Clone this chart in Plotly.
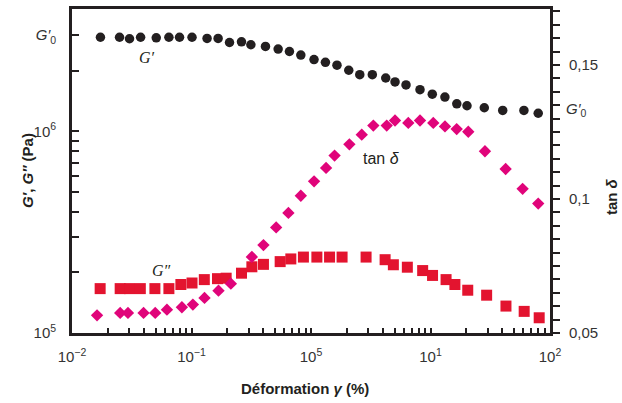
import plotly.graph_objects as go

# ---- data ----
strain_gp = [0.0173, 0.025, 0.0303, 0.0375, 0.0507, 0.0647, 0.0794, 0.101, 0.135, 0.167,
             0.208, 0.262, 0.314, 0.416, 0.531, 0.66, 0.822, 1.06, 1.32, 1.65,
             2.07, 2.56, 3.26, 4.22, 5.05, 6.24, 8.17, 10.35, 13.2, 16.6,
             20.2, 28.2, 40.2, 60.5, 79.7]
g_prime = [2.93e6, 2.93e6, 2.88e6, 2.93e6, 2.91e6, 2.93e6, 2.93e6, 2.93e6, 2.89e6, 2.89e6,
           2.76e6, 2.78e6, 2.69e6, 2.64e6, 2.56e6, 2.49e6, 2.39e6, 2.27e6, 2.20e6, 2.13e6,
           2.01e6, 1.91e6, 1.91e6, 1.84e6, 1.76e6, 1.70e6, 1.61e6, 1.53e6, 1.48e6, 1.37e6,
           1.34e6, 1.31e6, 1.27e6, 1.27e6, 1.23e6]

strain_gpp = [0.0172, 0.0253, 0.0303, 0.0373, 0.0494, 0.0647, 0.0815, 0.101, 0.128, 0.165,
              0.195, 0.262, 0.320, 0.400, 0.552, 0.678, 0.864, 1.12, 1.43, 1.82,
              2.89, 4.17, 4.89, 6.40, 8.60, 10.4, 13.5, 16.0, 20.5, 29.5,
              42.8, 60.8, 81.2]
g_second = [1.66e5, 1.66e5, 1.66e5, 1.66e5, 1.66e5, 1.66e5, 1.74e5, 1.77e5, 1.84e5, 1.86e5,
            1.87e5, 1.98e5, 2.13e5, 2.19e5, 2.26e5, 2.33e5, 2.38e5, 2.38e5, 2.38e5, 2.38e5,
            2.38e5, 2.31e5, 2.18e5, 2.12e5, 2.04e5, 1.93e5, 1.84e5, 1.74e5, 1.63e5, 1.54e5,
            1.36e5, 1.28e5, 1.19e5]

strain_tan = [0.0162, 0.0253, 0.0294, 0.0397, 0.0497, 0.0623, 0.0831, 0.1027, 0.1285, 0.1682,
              0.2135, 0.3199, 0.400, 0.511, 0.647, 0.822, 1.061, 1.337, 1.575, 2.095,
              2.659, 3.324, 4.302, 5.048, 6.52, 8.17, 10.55, 13.22, 16.56, 20.71,
              28.56, 42.55, 59.0, 79.7]
tan_delta = [0.0566, 0.0575, 0.0575, 0.0575, 0.0575, 0.0587, 0.0596, 0.0606, 0.0631, 0.0658,
             0.0684, 0.0784, 0.0828, 0.0894, 0.0948, 0.1012, 0.1066, 0.1116, 0.1162, 0.1204,
             0.1240, 0.1274, 0.1274, 0.1293, 0.1284, 0.1293, 0.1284, 0.1271, 0.1261, 0.1251,
             0.1178, 0.1112, 0.1038, 0.0983]

x_tick_vals = [0.01, 0.1, 1, 10, 100]
x_tick_text = ["10<sup>−2</sup>", "10<sup>−1</sup>", "10<sup>5</sup>", "10<sup>1</sup>", "10<sup>2</sup>"]
y_label_vals = [1e5, 1e6, 3e6]
y_label_text = ["10<sup>5</sup>", "10<sup>6</sup>", "<i>G′</i><sub>0</sub>"]
y2_label_vals = [0.05, 0.10, 0.15]
y2_label_text = ["0,05", "0,1", "0,15"]

# ---- styles ----
INK = "#231f20"
RED = "#e3142f"
MAGENTA = "#e0047a"
FONT = "Liberation Sans, Arial, sans-serif"

# tick arrays (majors labelled, minors blank)
xtv, xtt = [], []
for d in [0.01, 0.1, 1, 10]:
    for m in range(1, 10):
        v = round(d * m, 6)
        xtv.append(v)
        xtt.append(x_tick_text[x_tick_vals.index(d)] if m == 1 else "")
xtv.append(100)
xtt.append(x_tick_text[-1])

ytv, ytt = [], []
for d in [1e5, 1e6]:
    for m in range(1, 10):
        v = d * m
        if v > 3.5e6:
            continue
        ytv.append(v)
        ytt.append(y_label_text[y_label_vals.index(v)] if v in y_label_vals else "")

y2tv, y2tt = [], []
for i in range(0, 25):
    v = round(0.05 + 0.005 * i, 4)
    y2tv.append(v)
    lab = ""
    for lv, lt in zip(y2_label_vals, y2_label_text):
        if abs(lv - v) < 1e-9:
            lab = lt
    y2tt.append(lab)

fig = go.Figure()
fig.add_trace(go.Scatter(x=strain_gp, y=g_prime, mode="markers", name="G'",
                         marker=dict(symbol="circle", size=9.5, color=INK)))
fig.add_trace(go.Scatter(x=strain_gpp, y=g_second, mode="markers", name="G''",
                         marker=dict(symbol="square", size=11, color=RED)))
fig.add_trace(go.Scatter(x=strain_tan, y=tan_delta, mode="markers", name="tan d",
                         yaxis="y2", marker=dict(symbol="diamond", size=9.5, color=MAGENTA)))

axis_common = dict(showline=True, linecolor=INK, linewidth=2.8, showgrid=False, zeroline=False,
                   automargin=False,
                   tickcolor=INK, tickwidth=2, tickfont=dict(family=FONT, size=15, color="#333333"))

fig.update_layout(
    width=622, height=403,
    margin=dict(l=72, r=72, t=9, b=70),
    paper_bgcolor="white", plot_bgcolor="white",
    showlegend=False,
    xaxis=dict(type="log", range=[-2, 2], tickmode="array", tickvals=xtv, ticktext=xtt,
               ticks="inside", ticklen=5, mirror=True, ticklabelstandoff=8, **axis_common),
    yaxis=dict(type="log", range=[5, 6.607], tickmode="array", tickvals=ytv, ticktext=ytt,
               ticks="inside", ticklen=7, ticklabelstandoff=10, **axis_common),
    yaxis2=dict(overlaying="y", side="right", range=[0.05, 0.1709], tickmode="array",
                tickvals=y2tv, ticktext=y2tt, ticks="outside", ticklen=7,
                ticklabelstandoff=6, **axis_common),
)

ann = [
    dict(x=-0.094, y=0.50, text="<b><i>G′</i>, <i>G″</i> (Pa)</b>", textangle=-90),
    dict(x=1.13, y=0.42, text="<b>tan <i>δ</i></b>", textangle=-90),
    dict(x=0.487, y=-0.17, text="<b>Déformation <i>γ</i> (%)</b>"),
]
for a in ann:
    fig.add_annotation(xref="paper", yref="paper", showarrow=False, xanchor="center", yanchor="middle",
                       font=dict(family=FONT, size=15, color=INK), **a)

SERIF = "Liberation Serif, Times New Roman, serif"
fig.add_annotation(xref="paper", yref="paper", x=0.157, y=0.849, text="<i>G′</i>", showarrow=False,
                   xanchor="center", yanchor="middle",
                   font=dict(family=SERIF, size=16, color=INK))
fig.add_annotation(xref="paper", yref="paper", x=0.188, y=0.194, text="<i>G″</i>", showarrow=False,
                   xanchor="center", yanchor="middle",
                   font=dict(family=SERIF, size=16, color=INK))
fig.add_annotation(xref="paper", yref="paper", x=0.647, y=0.540, text="tan <i>δ</i>", showarrow=False,
                   xanchor="center", yanchor="middle",
                   font=dict(family=FONT, size=16, color=INK))
fig.add_annotation(xref="paper", yref="paper", x=1.055, y=0.69, text="<i>G′</i><sub>0</sub>",
                   showarrow=False, xanchor="center", yanchor="middle",
                   font=dict(family=FONT, size=15, color="#333333"))

fig.write_html("out.html", config={"displayModeBar": False},
               post_script="document.body.style.margin='0';document.body.style.overflow='hidden';")
